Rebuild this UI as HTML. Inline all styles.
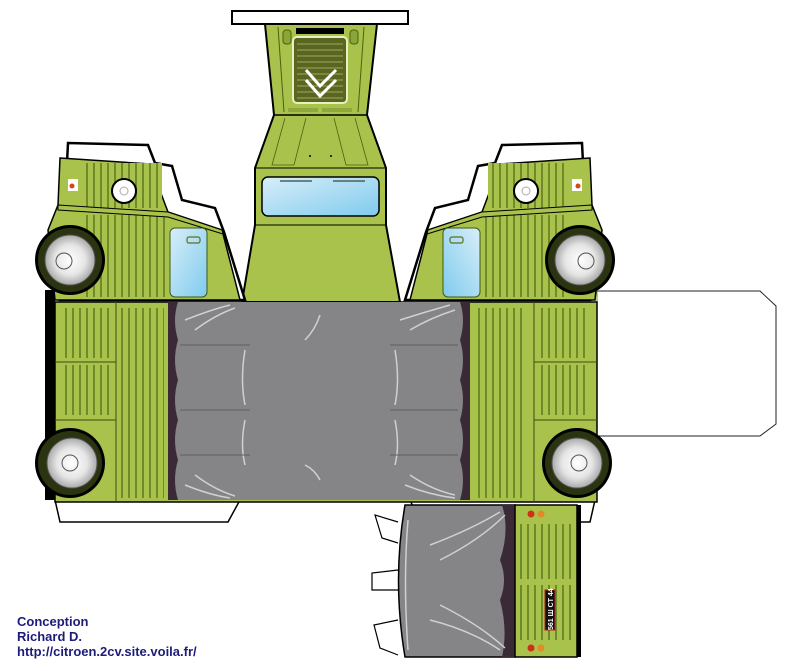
<!DOCTYPE html>
<html><head><meta charset="utf-8"><style>
html,body{margin:0;padding:0;background:#fff;width:807px;height:671px;overflow:hidden}
.t{position:absolute;left:17px;font:bold 13px "Liberation Sans",sans-serif;color:#1c1c7a}
</style></head><body>
<svg width="807" height="671" viewBox="0 0 807 671" style="position:absolute;left:0;top:0">
<defs>
<pattern id="st" width="7" height="10" patternUnits="userSpaceOnUse"><rect width="7" height="10" fill="#a9c24c"/><rect x="2" width="2" height="10" fill="#6f8a28"/></pattern>
<linearGradient id="gl" x1="0" y1="0" x2="1" y2="1"><stop offset="0" stop-color="#d8eef8"/><stop offset="1" stop-color="#7fcbee"/></linearGradient>
<radialGradient id="wh"><stop offset="0" stop-color="#fff"/><stop offset="0.6" stop-color="#e6e6e6"/><stop offset="1" stop-color="#aaa"/></radialGradient>
<g id="side">
 <polygon points="68,143 148,145 155,163 172,166 182,200 215,208 224,232 245,300 60,300" fill="#fff" stroke="#000" stroke-width="2.5"/>
 <polygon points="60,158 150,164 168,212 222,230 240,300 55,300 48,230 58,205" fill="#a9c24c" stroke="#000" stroke-width="1.5"/>
 <rect x="82" y="163" width="80" height="45" fill="url(#st)"/>
 <rect x="82" y="215" width="85" height="82" fill="url(#st)"/>
 <polygon points="58,205 168,212 222,230 223,234 168,217 58,210" fill="#a9c24c" stroke="#000" stroke-width="1"/>
 <rect x="170" y="228" width="37" height="69" rx="5" fill="url(#gl)" stroke="#3f5a10" stroke-width="1"/>
 <rect x="187" y="237" width="13" height="6" rx="2" fill="none" stroke="#5a7020" stroke-width="1.2"/>
 <circle cx="124" cy="191" r="12" fill="#fff" stroke="#000" stroke-width="2"/>
 <circle cx="124" cy="191" r="4" fill="none" stroke="#aaa"/>
 <rect x="68" y="179" width="10" height="12" fill="#fff"/><circle cx="72" cy="186" r="2.5" fill="#d24a10"/>
 <circle cx="70" cy="260" r="35" fill="#000"/>
 <circle cx="70" cy="260" r="32" fill="#2a3410"/>
 <circle cx="70" cy="260" r="25" fill="url(#wh)" stroke="#555" stroke-width="1"/>
 <circle cx="64" cy="261" r="8" fill="none" stroke="#555"/>
</g>
</defs>

<rect x="232" y="11" width="176" height="13" fill="#fff" stroke="#000" stroke-width="2"/>
<polygon points="265,24 377,24 367,115 386,168 386,225 400,302 242,302 255,225 255,168 274,115" fill="#a9c24c" stroke="#000" stroke-width="2"/>
<line x1="274" y1="115" x2="367" y2="115" stroke="#000" stroke-width="1.5"/>
<line x1="255" y1="168" x2="386" y2="168" stroke="#000" stroke-width="1"/>
<line x1="255" y1="225" x2="386" y2="225" stroke="#000" stroke-width="1"/>
<line x1="278" y1="27" x2="284" y2="112" stroke="#4c6010"/><line x1="364" y1="27" x2="358" y2="112" stroke="#4c6010"/>
<rect x="296" y="28" width="48" height="6" fill="#000"/>
<rect x="283" y="30" width="8" height="14" rx="3" fill="#8aa53a" stroke="#4c6010"/>
<rect x="350" y="30" width="8" height="14" rx="3" fill="#8aa53a" stroke="#4c6010"/>
<rect x="293" y="37" width="54" height="66" rx="4" fill="#5a6620" stroke="#e8f0c0" stroke-width="2"/>
<g stroke="#9aa860" stroke-width="1"><line x1="297" y1="44" x2="343" y2="44"/><line x1="297" y1="50" x2="343" y2="50"/><line x1="297" y1="56" x2="343" y2="56"/><line x1="297" y1="62" x2="343" y2="62"/><line x1="297" y1="68" x2="343" y2="68"/><line x1="297" y1="74" x2="343" y2="74"/><line x1="297" y1="80" x2="343" y2="80"/><line x1="297" y1="86" x2="343" y2="86"/><line x1="297" y1="92" x2="343" y2="92"/><line x1="297" y1="98" x2="343" y2="98"/></g>
<polyline points="306,70 320,86 336,70" fill="none" stroke="#fff" stroke-width="3"/>
<polyline points="306,80 320,96 336,80" fill="none" stroke="#fff" stroke-width="3"/>
<rect x="288" y="108" width="30" height="4" fill="#8fa83c"/><rect x="322" y="108" width="30" height="4" fill="#8fa83c"/>
<g stroke="#4c6010" fill="none" stroke-width="0.8"><polyline points="306,118 294,165 272,165 285,118"/><polyline points="334,118 346,165 368,165 355,118"/></g>
<circle cx="310" cy="156" r="1" fill="#000"/><circle cx="331" cy="156" r="1" fill="#000"/>
<rect x="262" y="177" width="117" height="39" rx="6" fill="url(#gl)" stroke="#000" stroke-width="1.5"/>
<line x1="280" y1="181" x2="312" y2="181" stroke="#4a6060" stroke-width="1.5"/><line x1="333" y1="181" x2="365" y2="181" stroke="#4a6060" stroke-width="1.5"/>

<use href="#side"/>
<use href="#side" transform="translate(650,0) scale(-1,1)"/>

<polygon points="597,291 760,291 776,306 776,424 760,436 597,436" fill="#fff" stroke="#222" stroke-width="1"/>
<line x1="597" y1="291" x2="597" y2="436" stroke="#6a8a20"/>

<polygon points="55,500 240,500 228,522 60,522" fill="#fff" stroke="#000" stroke-width="1.5"/>
<polygon points="410,500 595,500 590,522 420,522" fill="#fff" stroke="#000" stroke-width="1.5"/>

<rect x="45" y="290" width="10" height="210" fill="#000"/>
<rect x="55" y="302" width="542" height="200" fill="#a9c24c" stroke="#000" stroke-width="1.5"/>
<rect x="62" y="308" width="50" height="50" fill="url(#st)"/><rect x="62" y="365" width="50" height="50" fill="url(#st)"/>
<rect x="120" y="308" width="44" height="190" fill="url(#st)"/>
<rect x="540" y="308" width="50" height="50" fill="url(#st)"/><rect x="540" y="365" width="50" height="50" fill="url(#st)"/>
<rect x="478" y="308" width="44" height="190" fill="url(#st)"/>
<line x1="116" y1="302" x2="116" y2="502" stroke="#3c4c10"/><line x1="534" y1="302" x2="534" y2="502" stroke="#3c4c10"/>
<line x1="55" y1="362" x2="116" y2="362" stroke="#3c4c10"/><line x1="534" y1="362" x2="597" y2="362" stroke="#3c4c10"/>
<line x1="55" y1="420" x2="116" y2="420" stroke="#3c4c10"/><line x1="534" y1="420" x2="597" y2="420" stroke="#3c4c10"/>
<g><circle cx="70" cy="463" r="35" fill="#000"/><circle cx="70" cy="463" r="32" fill="#2a3410"/><circle cx="72" cy="463" r="25" fill="url(#wh)" stroke="#555"/><circle cx="70" cy="463" r="8" fill="none" stroke="#555"/></g>
<g><circle cx="577" cy="463" r="35" fill="#000"/><circle cx="577" cy="463" r="32" fill="#2a3410"/><circle cx="577" cy="463" r="25" fill="url(#wh)" stroke="#555"/><circle cx="579" cy="463" r="8" fill="none" stroke="#555"/></g>
<rect x="168" y="302" width="302" height="198" fill="#858587"/>
<path d="M168,302 L178,302 Q172,320 178,340 Q172,360 178,380 Q172,400 178,420 Q172,440 178,460 Q172,480 178,500 L168,500Z" fill="#3a2a38"/>
<path d="M470,302 L460,302 Q466,320 460,340 Q466,360 460,380 Q466,400 460,420 Q466,440 460,460 Q466,480 460,500 L470,500Z" fill="#3a2a38"/>
<g stroke="#d0d0d0" stroke-width="1.5" fill="none">
<path d="M185,320 Q210,310 230,305"/><path d="M195,330 Q215,315 235,308"/><path d="M400,320 Q425,312 450,305"/><path d="M410,330 Q430,318 455,310"/>
<path d="M185,485 Q210,495 230,498"/><path d="M195,475 Q215,490 235,496"/><path d="M405,485 Q430,495 455,498"/><path d="M410,475 Q432,490 455,495"/>
<path d="M245,350 Q240,380 245,405"/><path d="M395,350 Q400,380 395,405"/><path d="M245,420 Q240,445 245,465"/><path d="M395,420 Q400,445 395,465"/><path d="M320,315 Q315,330 305,340"/><path d="M320,480 Q315,470 305,465"/>
</g>
<g stroke="#5e5e60" stroke-width="1"><line x1="180" y1="345" x2="250" y2="345"/><line x1="390" y1="345" x2="458" y2="345"/><line x1="180" y1="410" x2="250" y2="410"/><line x1="390" y1="410" x2="458" y2="410"/><line x1="180" y1="455" x2="250" y2="455"/><line x1="390" y1="455" x2="458" y2="455"/></g>

<polyline points="398,522 375,515 382,538 398,543" fill="#fff" stroke="#000" stroke-width="1.2"/>
<polyline points="398,570 372,573 372,590 398,590" fill="#fff" stroke="#000" stroke-width="1.2"/>
<polyline points="398,620 374,625 380,648 398,655" fill="#fff" stroke="#000" stroke-width="1.2"/>
<path d="M405,505 L515,505 L515,657 L405,657 Q392,580 405,505Z" fill="#858587" stroke="#000" stroke-width="1.5"/>
<path d="M515,505 L502,505 Q510,530 500,560 Q508,580 500,600 Q508,630 502,657 L515,657Z" fill="#3a2a38"/>
<g stroke="#d0d0d0" stroke-width="1.5" fill="none"><path d="M430,545 Q470,530 500,512"/><path d="M440,560 Q480,540 505,515"/><path d="M430,620 Q470,630 500,650"/><path d="M440,605 Q480,625 505,648"/><path d="M408,520 Q403,580 408,650"/></g>
<rect x="515" y="505" width="62" height="152" fill="#a9c24c" stroke="#000" stroke-width="1.5"/>
<rect x="519" y="524" width="54" height="55" fill="url(#st)"/><rect x="519" y="585" width="54" height="55" fill="url(#st)"/>
<circle cx="531" cy="514" r="3.5" fill="#d0301a"/><circle cx="541" cy="514" r="3.5" fill="#e08a2a"/>
<circle cx="531" cy="648" r="3.5" fill="#d0301a"/><circle cx="541" cy="648" r="3.5" fill="#e08a2a"/>
<rect x="545" y="590" width="10" height="40" fill="#111" stroke="#b02020"/>
<text x="0" y="0" transform="translate(553,630) rotate(-90)" font-family="Liberation Sans" font-size="7" font-weight="bold" fill="#fff">561 Ш CT 44</text>
<rect x="577" y="505" width="4" height="152" fill="#000"/>
</svg>
<div class="t" style="top:614px">Conception</div>
<div class="t" style="top:629px">Richard D.</div>
<div class="t" style="top:644px">http://citroen.2cv.site.voila.fr/</div>
</body></html>
